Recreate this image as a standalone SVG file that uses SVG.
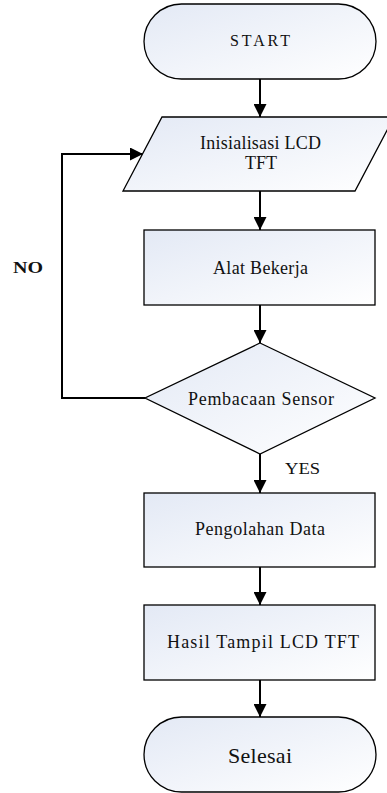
<svg xmlns="http://www.w3.org/2000/svg" width="387" height="793" viewBox="0 0 387 793">
<defs>
<linearGradient id="g" x1="0" y1="0" x2="1" y2="1">
<stop offset="0" stop-color="#e3e9f5"/>
<stop offset="1" stop-color="#ffffff"/>
</linearGradient>
<marker id="ah" markerUnits="userSpaceOnUse" markerWidth="13" markerHeight="13" refX="13" refY="6.5" orient="auto">
<path d="M0,0 L13,6.5 L0,13 z" fill="#000"/>
</marker>
</defs>
<style>
.s{fill:url(#g);stroke:#000;stroke-width:1.3}
.t{font-family:'Liberation Serif','DejaVu Serif',serif;font-size:18px;fill:#111;text-anchor:middle}
.c{fill:none;stroke:#000;stroke-width:2;marker-end:url(#ah)}
.l{font-family:'Liberation Serif','DejaVu Serif',serif;font-size:17px;fill:#111}
</style>
<g id="connectors">
<line class="c" x1="260" y1="79" x2="260" y2="117"/>
<line class="c" x1="260" y1="191" x2="260" y2="230"/>
<line class="c" x1="260" y1="305" x2="260" y2="343"/>
<polyline class="c" points="145,398 62,398 62,154 143,154"/>
<line class="c" x1="260" y1="454" x2="260" y2="493"/>
<line class="c" x1="260" y1="567" x2="260" y2="605"/>
<line class="c" x1="260" y1="680" x2="260" y2="717"/>
<text class="l" x="13" y="273" font-weight="bold" textLength="30" lengthAdjust="spacingAndGlyphs">NO</text>
<text class="l" x="285" y="474" textLength="35" lengthAdjust="spacingAndGlyphs">YES</text>
</g>
<g id="start">
<rect class="s" x="144" y="4" width="232" height="75" rx="37.5" ry="37.5"/>
<text class="t" x="260" y="46" style="font-size:16px" textLength="60">START</text>
</g>
<g id="init">
<polygon class="s" points="162,117 394,117 355,191 123,191"/>
<text class="t" x="260.5" y="149" textLength="121">Inisialisasi LCD</text>
<text class="t" x="261" y="169" textLength="32">TFT</text>
</g>
<g id="alat">
<rect class="s" x="144" y="230" width="231" height="75"/>
<text class="t" x="260.5" y="274" textLength="95">Alat Bekerja</text>
</g>
<g id="sensor">
<polygon class="s" points="260,343 375,398 260,454 145,398"/>
<text class="t" x="261" y="405" textLength="146">Pembacaan Sensor</text>
</g>
<g id="olah">
<rect class="s" x="144" y="493" width="231" height="74"/>
<text class="t" x="260" y="535" textLength="130">Pengolahan Data</text>
</g>
<g id="hasil">
<rect class="s" x="144" y="605" width="231" height="75"/>
<text class="t" x="263" y="648" textLength="192">Hasil Tampil LCD TFT</text>
</g>
<g id="selesai">
<rect class="s" x="144" y="717" width="232" height="75" rx="37.5" ry="37.5"/>
<text class="t" x="260" y="763" style="font-size:22px" textLength="64">Selesai</text>
</g>
</svg>
